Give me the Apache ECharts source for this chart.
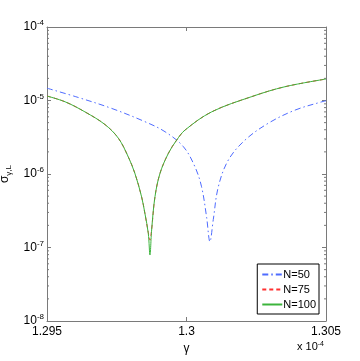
<!DOCTYPE html>
<html>
<head>
<meta charset="utf-8">
<script src="https://cdn.jsdelivr.net/npm/echarts@6/dist/echarts.min.js"></script>
<style>
  html, body { margin: 0; padding: 0; background: #fff; }
  #chart { width: 360px; height: 361px; }
</style>
</head>
<body>
<div id="chart"></div>
<script>
// gamma in units of 1e-4
var gamma50 = [1.29500, 1.29612, 1.29732, 1.29851, 1.29923, 1.29989, 1.30030, 1.30054, 1.30072, 1.30084, 1.30096, 1.30114, 1.30150, 1.30210, 1.30293, 1.30389, 1.30485, 1.30500];
var sigma50 = [1.47e-5, 1.1e-5, 7.8e-6, 5.15e-6, 3.76e-6, 2.35e-6, 1.26e-6, 6.7e-7, 2.6e-7, 1.2e-7, 2.4e-7, 6.7e-7, 1.55e-6, 2.9e-6, 4.9e-6, 7.4e-6, 9.6e-6, 9.9e-6];

var gamma75 = [1.29500, 1.29565, 1.29636, 1.29708, 1.29756, 1.29791, 1.29815, 1.29839, 1.29851, 1.29863, 1.29869, 1.29875, 1.29887, 1.29905, 1.29935, 1.29965, 1.29995, 1.30090, 1.30234, 1.30353, 1.30500];
var sigma75 = [1.15e-5, 9.6e-6, 7.0e-6, 4.7e-6, 3.06e-6, 1.72e-6, 1.02e-6, 4.9e-7, 2.9e-7, 1.6e-7, 1.26e-7, 1.75e-7, 4.9e-7, 1.02e-6, 1.91e-6, 2.9e-6, 3.97e-6, 7.0e-6, 1.13e-5, 1.54e-5, 1.96e-5];

var gamma100 = [1.29500, 1.29565, 1.29636, 1.29708, 1.29756, 1.29791, 1.29815, 1.29839, 1.29851, 1.29863, 1.29869, 1.29875, 1.29887, 1.29905, 1.29935, 1.29965, 1.29995, 1.30090, 1.30234, 1.30353, 1.30500];
var sigma100 = [1.15e-5, 9.6e-6, 7.0e-6, 4.7e-6, 3.06e-6, 1.72e-6, 1.02e-6, 4.9e-7, 2.9e-7, 1.56e-7, 7.9e-8, 1.73e-7, 4.9e-7, 1.02e-6, 1.91e-6, 2.9e-6, 3.97e-6, 7.0e-6, 1.13e-5, 1.54e-5, 1.96e-5];

var seriesNames = ['N=50', 'N=75', 'N=100'];
// log minor tick positions (2..9 of each decade)
var minorTickValues = [];
[1e-8, 1e-7, 1e-6, 1e-5].forEach(function (d) {
    for (var m = 2; m <= 9; m++) minorTickValues.push(m * d);
});

function pairs(xs, ys) {
    return xs.map(function (x, i) { return [x, ys[i]]; });
}

var font = 'Liberation Sans, Arial, sans-serif';
var axisColor = '#7a7a7a';

function lineSeries(name, xs, ys, color, type) {
    return {
        name: name,
        type: 'line',
        data: pairs(xs, ys),
        smooth: 0.35,
        showSymbol: false,
        symbol: 'none',
        color: color,
        lineStyle: { width: 1, color: color, type: type }
    };
}

var chart = echarts.init(document.getElementById('chart'));
var option = {
    animation: false,
    backgroundColor: '#fff',
    grid: { left: 47, right: 34, top: 27, bottom: 40, outerBoundsMode: 'none', containLabel: false },
    legend: {
        orient: 'vertical',
        right: 41,
        top: 264,
        data: seriesNames,
        backgroundColor: '#fff',
        borderColor: '#000',
        borderWidth: 1,
        borderRadius: 0,
        padding: [5, 3, 4, 4],
        itemWidth: 20,
        itemHeight: 10,
        itemGap: 4,
        itemStyle: { opacity: 0 },
        textStyle: { fontFamily: font, fontSize: 11, color: '#000', padding: [0, 0, 0, -4] }
    },
    xAxis: [{
        type: 'value',
        min: 1.295,
        max: 1.305,
        interval: 0.005,
        name: 'γ',
        nameLocation: 'middle',
        nameGap: 13,
        nameTextStyle: { fontFamily: font, fontSize: 12, color: '#000' },
        axisLine: { lineStyle: { color: axisColor } },
        axisTick: { inside: true, length: 4, lineStyle: { color: axisColor } },
        splitLine: { show: false },
        axisLabel: {
            fontFamily: font, fontSize: 12, color: '#000', margin: 5,
            formatter: function (v) { return String(+v.toFixed(3)); }
        }
    }, {
        type: 'value',
        position: 'top',
        min: 1.295,
        max: 1.305,
        interval: 0.005,
        axisLine: { show: true, lineStyle: { color: axisColor } },
        axisTick: { show: true, inside: true, length: 4, lineStyle: { color: axisColor } },
        axisLabel: { show: false },
        splitLine: { show: false }
    }],
    yAxis: [{
        type: 'log',
        logBase: 10,
        min: 1e-8,
        max: 1e-4,
        name: '{a|σ}{b|γ,L}',
        nameLocation: 'middle',
        nameRotate: 90,
        nameGap: 25,
        nameTextStyle: {
            rich: {
                a: { fontFamily: font, fontSize: 12, color: '#000' },
                b: { fontFamily: font, fontSize: 8, color: '#000', padding: [7, 0, 0, 0] }
            }
        },
        axisLine: { show: true, lineStyle: { color: axisColor } },
        axisTick: { show: true, inside: true, length: 4, lineStyle: { color: axisColor } },
        splitLine: { show: false },
        axisLabel: {
            margin: 3,
            formatter: function (v) {
                return '{b|10}{s|' + Math.round(Math.log10(v)) + '}';
            },
            rich: {
                b: { fontFamily: font, fontSize: 12, color: '#000' },
                s: { fontFamily: font, fontSize: 8, color: '#000', verticalAlign: 'top', padding: [0, 0, 8, 0] }
            }
        }
    }, {
        type: 'log',
        logBase: 10,
        min: 1e-8,
        max: 1e-4,
        position: 'right',
        axisLine: { show: true, lineStyle: { color: axisColor } },
        axisTick: { show: true, inside: true, length: 4, lineStyle: { color: axisColor } },
        splitLine: { show: false },
        axisLabel: { show: false }
    }],
    graphic: [{
        type: 'text',
        left: 297,
        top: 341,
        style: {
            text: '{a|x 10}{b|-4}',
            rich: {
                a: { fontFamily: font, fontSize: 11, fill: '#000', padding: [4, 0, 0, 0] },
                b: { fontFamily: font, fontSize: 7, fill: '#000' }
            }
        }
    }],
    series: [
        lineSeries('N=50', gamma50, sigma50, '#4f6cff', [6, 3, 1.5, 3]),
        lineSeries('N=75', gamma75, sigma75, '#ff3030', [4, 3]),
        lineSeries('N=100', gamma100, sigma100, '#3cb43c', 'solid'),
        {
            // minor ticks of the log axes, placed through the axis scale
            type: 'custom',
            silent: true,
            data: minorTickValues,
            encode: { y: 0 },
            renderItem: function (params, api) {
                var v = api.value(0);
                var l = api.coord([1.295, v]);
                var r = api.coord([1.305, v]);
                return {
                    type: 'group',
                    children: [{
                        type: 'line',
                        shape: { x1: l[0], y1: l[1], x2: l[0] + 2, y2: l[1] },
                        style: { stroke: axisColor, lineWidth: 1 }
                    }, {
                        type: 'line',
                        shape: { x1: r[0] - 2, y1: r[1], x2: r[0], y2: r[1] },
                        style: { stroke: axisColor, lineWidth: 1 }
                    }]
                };
            }
        }
    ]
};
chart.setOption(option);
</script>
</body>
</html>
